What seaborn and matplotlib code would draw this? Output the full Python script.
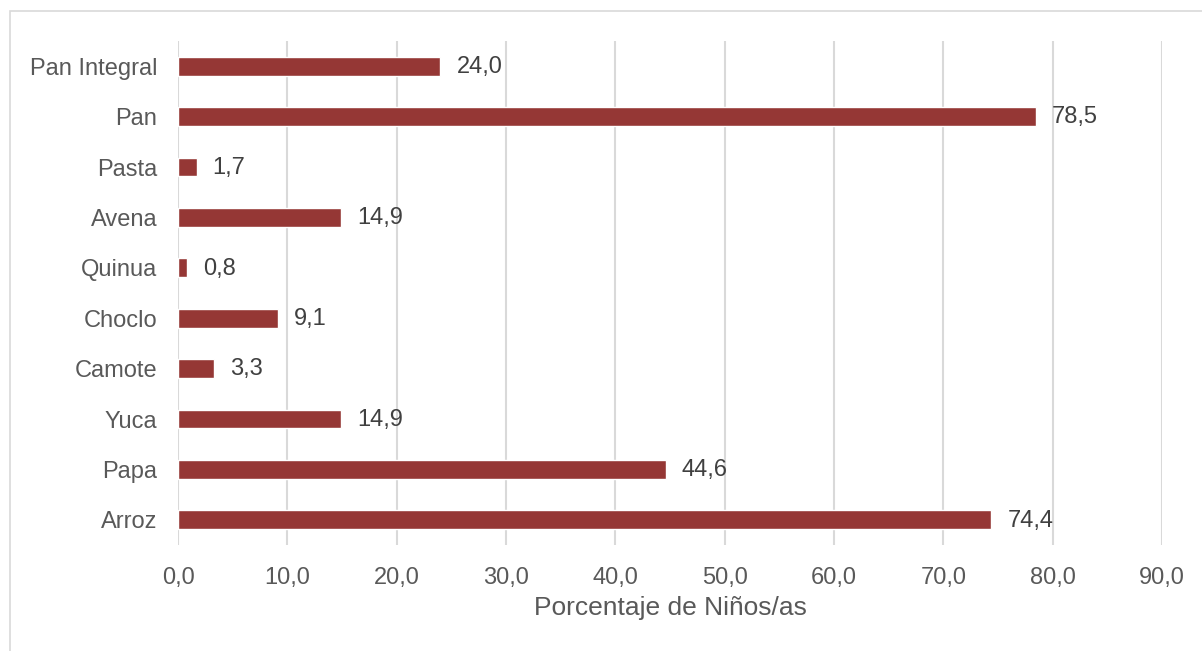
import matplotlib
matplotlib.use("Agg")
import matplotlib.pyplot as plt
from matplotlib.patches import Rectangle
from matplotlib.ticker import FuncFormatter, MultipleLocator
import seaborn as sns
import pandas as pd

# Food items (top to bottom) and share of children consuming each one
alimentos = ["Pan Integral", "Pan", "Pasta", "Avena", "Quinua",
             "Choclo", "Camote", "Yuca", "Papa", "Arroz"]
porcentajes = [24.0, 78.5, 1.7, 14.9, 0.8, 9.1, 3.3, 14.9, 44.6, 74.4]

df = pd.DataFrame({"Alimento": alimentos, "Porcentaje": porcentajes})

sns.set_theme(style="white")
plt.rcParams["font.family"] = ["Liberation Sans", "DejaVu Sans"]

fig = plt.figure(figsize=(12.02, 6.51), dpi=100)
ax = fig.add_axes([0.1481, 0.1628, 0.8186, 0.7742])

# Light frame around the chart area
fig.patches.append(Rectangle((10 / 1202, -0.1), 1.2, 1 - 11 / 651 + 0.1,
                             transform=fig.transFigure, fill=False,
                             edgecolor="#d9d9d9", linewidth=1.2, zorder=0))

bar_color = "#953735"
sns.barplot(data=df, y="Alimento", x="Porcentaje", orient="h",
            color=bar_color, width=0.37, saturation=1, ax=ax, zorder=3)

for patch, val in zip(ax.patches, porcentajes):
    y = patch.get_y() + patch.get_height() / 2
    ax.annotate(f"{val:.1f}".replace(".", ","), xy=(val, y),
                xytext=(11.5, -0.5), textcoords="offset points",
                ha="left", va="center", fontsize=17, color="#404040")

ax.set_xlim(0, 90)
ax.set_ylim(len(alimentos) - 0.5, -0.5)
ax.xaxis.set_major_locator(MultipleLocator(10))
ax.xaxis.set_major_formatter(FuncFormatter(lambda v, _: f"{v:.1f}".replace(".", ",")))
ax.grid(axis="x", color="#d9d9d9", linewidth=1.5, zorder=0)
ax.grid(axis="y", visible=False)
ax.set_axisbelow(True)
for s in ax.spines.values():
    s.set_visible(False)

ax.tick_params(axis="y", length=0, pad=15, labelsize=17, labelcolor="#595959")
ax.tick_params(axis="x", length=0, pad=16, labelsize=17, labelcolor="#595959")
ax.set_ylabel("")
ax.set_xlabel("Porcentaje de Niños/as", fontsize=19, color="#595959", labelpad=5)

fig.savefig("out.png", dpi=100, facecolor="white")
